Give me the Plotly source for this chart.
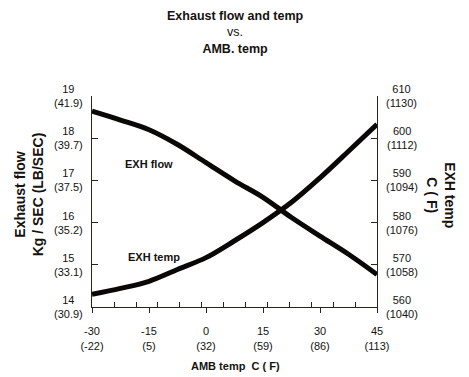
import plotly.graph_objects as go

# ---- data ----
amb_temp_c = [-30, -22.5, -15, -7.5, 0, 7.5, 15, 22.5, 30, 37.5, 45]
exh_flow = [18.64, 18.43, 18.20, 17.85, 17.42, 16.99, 16.60, 16.12, 15.68, 15.25, 14.77]
exh_temp = [563.0, 564.4, 566.1, 568.9, 571.7, 575.7, 580.0, 584.8, 590.6, 596.9, 603.3]

x_ticks = [-30, -15, 0, 15, 30, 45]
x_ticks_f = ["(-22)", "(5)", "(32)", "(59)", "(86)", "(113)"]
x_minor = [-24.1, -18.4, -12.7, -6.95, -1.07, 4.65, 10.27, 16.15, 21.95, 27.75, 33.55, 39.36]

flow_ticks = [14, 15, 16, 17, 18, 19]
flow_ticks_lb = ["(30.9)", "(33.1)", "(35.2)", "(37.5)", "(39.7)", "(41.9)"]
temp_ticks = [560, 570, 580, 590, 600, 610]
temp_ticks_f = ["(1040)", "(1058)", "(1076)", "(1094)", "(1112)", "(1130)"]

FONT = "Liberation Sans, Arial, Helvetica, sans-serif"
TXT = "#151210"
AXC = "#2b2418"

fig = go.Figure()
fig.add_trace(go.Scatter(x=amb_temp_c, y=exh_flow, mode="lines", line=dict(color="#0a0806", width=5, shape="spline"),
                         name="EXH flow", yaxis="y"))
fig.add_trace(go.Scatter(x=amb_temp_c, y=exh_temp, mode="lines", line=dict(color="#0a0806", width=5, shape="spline"),
                         name="EXH temp", yaxis="y2"))

ann = []
for v, f in zip(flow_ticks, flow_ticks_lb):
    ann.append(dict(xref="paper", yref="y", x=-0.0825, y=v, text=f"{v}<br>{f}", showarrow=False,
                    xanchor="center", yanchor="middle", align="center",
                    font=dict(family=FONT, size=11, color=TXT)))
for v, f in zip(temp_ticks, temp_ticks_f):
    ann.append(dict(xref="paper", yref="y2", x=1.0877, y=v, text=f"{v}<br>{f}", showarrow=False,
                    xanchor="center", yanchor="middle", align="center",
                    font=dict(family=FONT, size=11, color=TXT)))

ann += [
    dict(xref="paper", yref="paper", x=0.5, y=1.2986, yanchor="middle", showarrow=False, align="center",
         text="<b>Exhaust flow and temp</b><br>vs.<br><b>AMB. temp</b>",
         font=dict(family=FONT, size=12.5, color=TXT)),
    dict(xref="paper", yref="paper", x=-0.223, y=0.536, textangle=-90, showarrow=False, align="center",
         text="<b>Exhaust flow</b><br><b>Kg / SEC (LB/SEC)</b>", xanchor="center", yanchor="middle",
         font=dict(family=FONT, size=14, color=TXT)),
    dict(xref="paper", yref="paper", x=1.226, y=0.528, textangle=90, showarrow=False, align="center",
         text="<b>EXH temp</b><br><b>C ( F)</b>", xanchor="center", yanchor="middle",
         font=dict(family=FONT, size=14, color=TXT)),
    dict(xref="paper", yref="paper", x=0.505, y=-0.2796, showarrow=False, yanchor="middle",
         text="<b>AMB temp&nbsp;&nbsp;C ( F)</b>",
         font=dict(family=FONT, size=11, color=TXT)),
    dict(xref="x", yref="y", x=-15, y=17.40, showarrow=False, text="<b>EXH flow</b>",
         font=dict(family=FONT, size=11, color=TXT)),
    dict(xref="x", yref="y", x=-13.7, y=15.19, showarrow=False, text="<b>EXH temp</b>",
         font=dict(family=FONT, size=11, color=TXT)),
]

fig.update_layout(
    width=469, height=377,
    margin=dict(l=92, r=92, t=96, b=70),
    paper_bgcolor="white", plot_bgcolor="white",
    showlegend=False,
    font=dict(family=FONT, size=11, color=TXT),
    xaxis=dict(range=[-30, 45], showgrid=False, zeroline=False, showline=True, linecolor=AXC, linewidth=1.3,
               tickmode="array", tickvals=x_ticks,
               ticktext=[f"{a}<br>{b}" for a, b in zip(x_ticks, x_ticks_f)],
               ticks="outside", ticklen=5, tickcolor=AXC, tickwidth=1.3,
               ticklabelstandoff=9, tickfont=dict(family=FONT, size=11, color=TXT),
               minor=dict(tickmode="array", tickvals=x_minor, ticks="inside", ticklen=5,
                          tickcolor=AXC, tickwidth=1.2, showgrid=False)),
    yaxis=dict(range=[14, 19], showgrid=False, zeroline=False, showline=True, linecolor=AXC, linewidth=1.3,
               tickmode="array", tickvals=flow_ticks, ticks="inside", ticklen=6, tickcolor=AXC, tickwidth=1.3,
               showticklabels=False),
    yaxis2=dict(range=[560, 610], overlaying="y", side="right", showgrid=False, zeroline=False, showline=True,
                linecolor=AXC, linewidth=1.3, tickmode="array", tickvals=temp_ticks, ticks="inside", ticklen=6,
                tickcolor=AXC, tickwidth=1.3, showticklabels=False),
    annotations=ann,
)

fig.write_html("out.html", config={"displayModeBar": False},
               post_script="document.body.style.margin='0';document.body.style.padding='0';"
                           "document.documentElement.style.overflow='hidden';")
